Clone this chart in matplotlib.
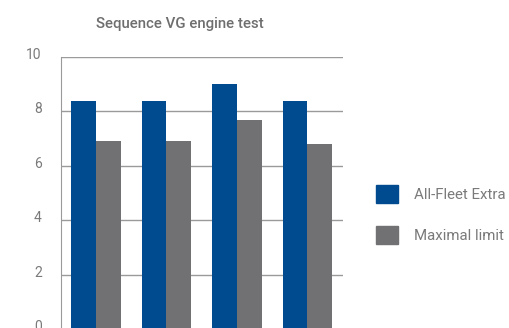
import numpy as np
import matplotlib
matplotlib.use("Agg")
import matplotlib.pyplot as plt
import matplotlib.transforms as mtransforms
from matplotlib.patches import Patch

plt.rcParams['font.family'] = ['Roboto', 'DejaVu Sans']

# data
categories = ["1", "2", "3", "4"]
all_fleet = [8.4, 8.4, 9.0, 8.4]
maximal = [6.9, 6.9, 7.7, 6.8]
series_names = ["All-Fleet Extra", "Maximal limit"]
yticks = [0, 2, 4, 6, 8, 10]

blue = "#004a8f"
gray = "#717072"
txt = "#7a7a7a"

fig = plt.figure(figsize=(5.09, 3.28), dpi=100)
ax = fig.add_axes([0.1193, -0.0043, 0.554, 0.8306])

x = np.arange(len(categories))
w = 0.35
ax.bar(x - w / 2, all_fleet, w, color=blue, zorder=3)
ax.bar(x + w / 2, maximal, w, color=gray, zorder=3)

ax.set_xlim(-0.5, 3.5)
ax.set_ylim(0, 10)
ax.set_yticks(yticks)
ax.set_xticks([])
ax.tick_params(axis='y', length=0, pad=13.7, labelsize=10, labelcolor=txt)
# labels sit a little above their gridlines in the original
offset = mtransforms.ScaledTranslation(0, 3.5 / 100, fig.dpi_scale_trans)
for lab in ax.get_yticklabels():
    lab.set_transform(lab.get_transform() + offset)
ax.grid(axis='y', color="#9a9a9a", linewidth=1, zorder=0)
for s in ["top", "right", "bottom"]:
    ax.spines[s].set_visible(False)
ax.spines["left"].set_color("#9a9a9a")

fig.text(180 / 509, 1 - 24 / 328, "Sequence VG engine test", ha="center", va="center",
         fontsize=10.8, fontweight="medium", color="#6e6e6e")

handles = [Patch(color=blue), Patch(color=gray)]
fig.legend(handles, series_names, loc="center left", bbox_to_anchor=(376 / 509, 1 - 214.5 / 328),
           frameon=False, fontsize=10.8, labelcolor=txt, handlelength=1.45, handleheight=1.42,
           handletextpad=1.05, labelspacing=1.6, borderpad=0, borderaxespad=0)

fig.savefig("out.png", dpi=100)
